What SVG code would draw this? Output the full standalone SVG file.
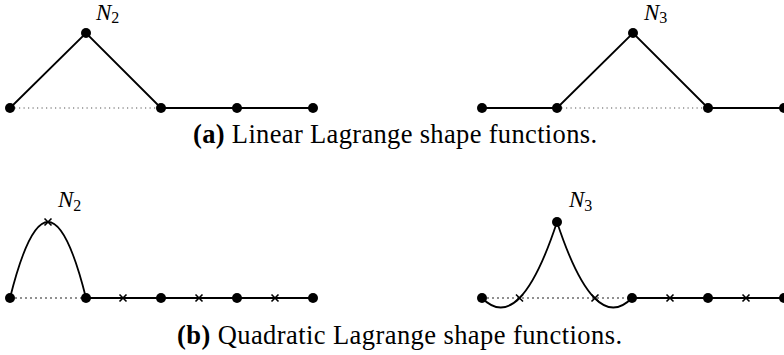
<svg xmlns="http://www.w3.org/2000/svg" width="784" height="355" viewBox="0 0 784 355">
<style>
.ln{stroke:#000;stroke-width:1.8;fill:none}
.dt{stroke:#555;stroke-width:1.2;stroke-dasharray:1.2 3.3;fill:none}
.dtb{stroke:#222;stroke-width:1.2;stroke-dasharray:2 3;fill:none}
.nd{fill:#000}
.cx{stroke:#000;stroke-width:1.6;fill:none}
.lab{font-family:"Liberation Serif",serif;font-style:italic;font-size:23px;fill:#000}
.sub{font-style:normal;font-size:16px}
.cap{font-family:"Liberation Serif",serif;font-size:26.5px;fill:#000}
</style>
<defs>
<circle id="dot" r="5"/>
<path id="x" d="M-3.5,-3.5L3.5,3.5M-3.5,3.5L3.5,-3.5"/>
</defs>
<g id="connectors">
<line class="dt" x1="10" y1="108" x2="161" y2="108"/>
<polyline class="ln" points="10,108 86,33 161,108 313,108"/>
<line class="dt" x1="557" y1="108" x2="708" y2="108"/>
<polyline class="ln" points="482,108 557,108 633,33 708,108 784,108"/>
<line class="dtb" x1="10" y1="298" x2="86" y2="298"/>
<path class="ln" d="M10,298 Q48,146 86,298 L313,298"/>
<line class="dtb" x1="482" y1="298" x2="632" y2="298"/>
<path class="ln" d="M482,298 Q519.5,336 557,222 Q594.5,336 632,298 L784,298"/>
</g>
<g id="panel-a-left">
<use href="#dot" class="nd" x="10" y="108"/>
<use href="#dot" class="nd" x="86" y="33"/>
<use href="#dot" class="nd" x="161" y="108"/>
<use href="#dot" class="nd" x="237" y="108"/>
<use href="#dot" class="nd" x="313" y="108"/>
<text class="lab" x="96" y="19.5">N<tspan class="sub" dy="3.5">2</tspan></text>
</g>
<g id="panel-a-right">
<use href="#dot" class="nd" x="482" y="108"/>
<use href="#dot" class="nd" x="557" y="108"/>
<use href="#dot" class="nd" x="633" y="33"/>
<use href="#dot" class="nd" x="708" y="108"/>
<use href="#dot" class="nd" x="784" y="108"/>
<text class="lab" x="644" y="19.5">N<tspan class="sub" dy="3.5">3</tspan></text>
</g>
<g id="panel-b-left">
<use href="#dot" class="nd" x="10" y="298"/>
<use href="#dot" class="nd" x="86" y="298"/>
<use href="#dot" class="nd" x="161" y="298"/>
<use href="#dot" class="nd" x="237" y="298"/>
<use href="#dot" class="nd" x="313" y="298"/>
<use href="#x" class="cx" x="48" y="222"/>
<use href="#x" class="cx" x="123" y="298"/>
<use href="#x" class="cx" x="199" y="298"/>
<use href="#x" class="cx" x="275" y="298"/>
<text class="lab" x="58" y="207">N<tspan class="sub" dy="3.5">2</tspan></text>
</g>
<g id="panel-b-right">
<use href="#dot" class="nd" x="482" y="298"/>
<use href="#dot" class="nd" x="557" y="222"/>
<use href="#dot" class="nd" x="632" y="298"/>
<use href="#dot" class="nd" x="708" y="298"/>
<use href="#dot" class="nd" x="784" y="298"/>
<use href="#x" class="cx" x="519.5" y="298"/>
<use href="#x" class="cx" x="595" y="298"/>
<use href="#x" class="cx" x="670" y="298"/>
<use href="#x" class="cx" x="746" y="298"/>
<text class="lab" x="569" y="207">N<tspan class="sub" dy="3.5">3</tspan></text>
</g>
<g id="captions">
<text class="cap" x="395" y="143" text-anchor="middle" textLength="404"><tspan font-weight="bold">(a)</tspan> Linear Lagrange shape functions.</text>
<text class="cap" x="399.5" y="344" text-anchor="middle" textLength="445"><tspan font-weight="bold">(b)</tspan> Quadratic Lagrange shape functions.</text>
</g>
</svg>
